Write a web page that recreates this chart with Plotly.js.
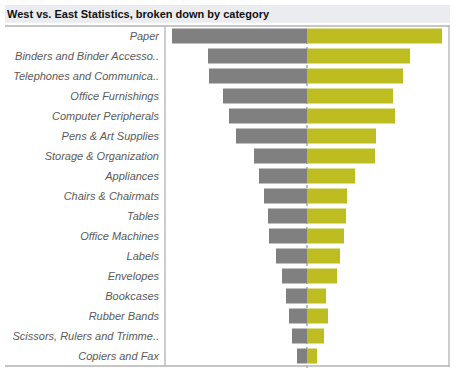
<!DOCTYPE html>
<html>
<head>
<meta charset="utf-8">
<script src="https://cdn.plot.ly/plotly-3.0.1.min.js"></script>
<style>
html,body{margin:0;padding:0;background:#fff;}
#chart{width:457px;height:377px;}
</style>
</head>
<body>
<div id="chart"></div>
<script>
const categories = [
  "Paper",
  "Binders and Binder Accesso..",
  "Telephones and Communica..",
  "Office Furnishings",
  "Computer Peripherals",
  "Pens & Art Supplies",
  "Storage & Organization",
  "Appliances",
  "Chairs & Chairmats",
  "Tables",
  "Office Machines",
  "Labels",
  "Envelopes",
  "Bookcases",
  "Rubber Bands",
  "Scissors, Rulers and Trimme..",
  "Copiers and Fax"
];
const westValues = [135, 99, 98, 84, 78, 71, 53, 48, 43, 39, 38, 31, 25, 21, 18, 15, 10];
const eastValues = [135, 103, 96, 86, 88, 69, 68, 48, 40, 39, 37, 33, 30, 19, 21, 17, 10];
const axisLimit = 142;

const L = 165, R = 8, T = 26, B = 11, W = 457, H = 377;
const pw = W - L - R, ph = H - T - B;
const px = x => (x - L) / pw;
const py = y => (H - B - y) / ph;

const traces = [
  {
    type: 'bar', orientation: 'h', name: 'West',
    y: categories, x: westValues.map(v => -v),
    marker: {color: '#808080', line: {width: 0}},
    hoverinfo: 'skip'
  },
  {
    type: 'bar', orientation: 'h', name: 'East',
    y: categories, x: eastValues,
    marker: {color: '#bdbd22', line: {width: 0}},
    hoverinfo: 'skip'
  }
];

const borderColor = '#b3b3b3';
const layout = {
  width: W, height: H,
  margin: {l: L, r: R, t: T, b: B, pad: 0},
  paper_bgcolor: '#ffffff',
  plot_bgcolor: 'rgba(0,0,0,0)',
  barmode: 'relative',
  bargap: 0.25,
  showlegend: false,
  font: {family: 'Liberation Sans, Arial, sans-serif'},
  xaxis: {
    range: [-axisLimit, axisLimit],
    showgrid: false, zeroline: false, showticklabels: false, showline: false, fixedrange: true
  },
  yaxis: {
    autorange: 'reversed',
    showgrid: false, zeroline: false, showline: false,
    ticks: '', ticklabelstandoff: 5,
    tickfont: {family: 'Liberation Sans, Arial, sans-serif', size: 11, color: '#5a5a5a', style: 'italic'},
    fixedrange: true
  },
  shapes: [
    {type: 'rect', xref: 'paper', yref: 'paper', x0: px(5), x1: px(450), y0: py(22.7), y1: py(5),
     fillcolor: '#ebecf0', line: {width: 0}, layer: 'below'},
    {type: 'line', xref: 'x', yref: 'paper', x0: 0, x1: 0, y0: py(368), y1: 1,
     line: {color: '#a8a8a8', width: 1.5, dash: 'dot'}, layer: 'below'},
    {type: 'line', xref: 'paper', yref: 'paper', x0: px(5), x1: px(450), y0: 1, y1: 1,
     line: {color: borderColor, width: 1.3}},
    {type: 'line', xref: 'paper', yref: 'paper', x0: px(5), x1: px(450), y0: 0, y1: 0,
     line: {color: borderColor, width: 1.3}},
    {type: 'line', xref: 'paper', yref: 'paper', x0: 0, x1: 0, y0: 0, y1: 1,
     line: {color: borderColor, width: 1.3}},
    {type: 'line', xref: 'paper', yref: 'paper', x0: 1, x1: 1, y0: 0, y1: 1,
     line: {color: borderColor, width: 1.3}}
  ],
  annotations: [
    {text: 'West vs. East Statistics, broken down by category', xref: 'paper', yref: 'paper',
     x: px(5), y: py(14), xanchor: 'left', yanchor: 'middle', showarrow: false,
     font: {family: 'Liberation Sans, Arial, sans-serif', size: 11, color: '#111111', weight: 'bold'}}
  ]
};

Plotly.newPlot('chart', traces, layout, {displayModeBar: false, staticPlot: true});
</script>
</body>
</html>
